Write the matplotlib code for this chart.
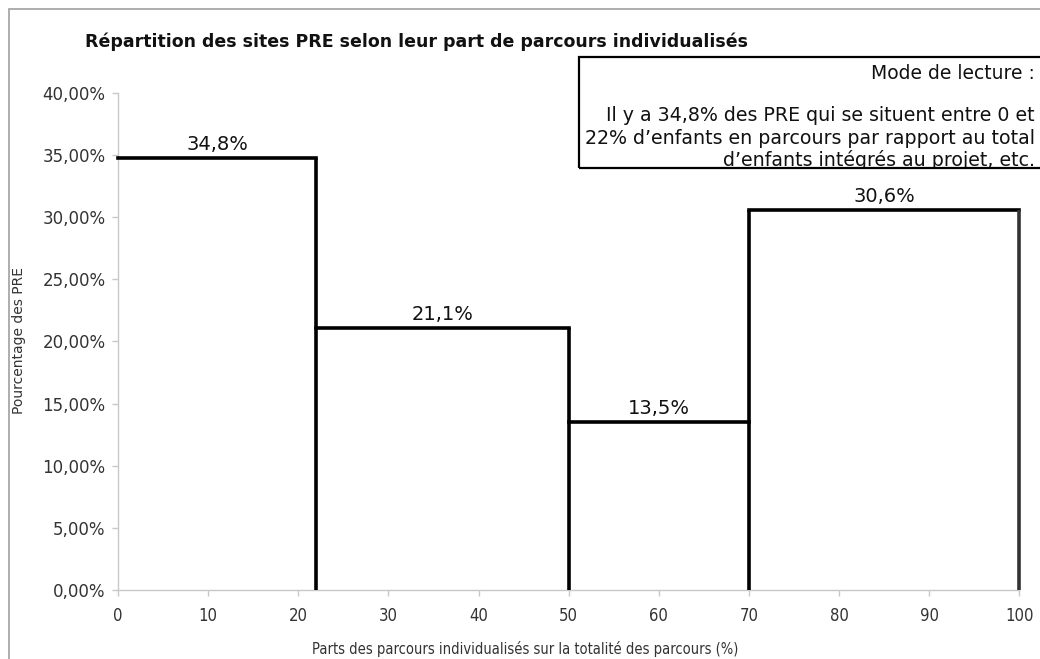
import matplotlib
matplotlib.use("Agg")
import matplotlib.pyplot as plt
from matplotlib.patches import Rectangle
from matplotlib.ticker import FuncFormatter

bin_edges = [0, 22, 50, 70, 100]
values = [34.8, 21.1, 13.5, 30.6]
value_labels = ["34,8%", "21,1%", "13,5%", "30,6%"]
y_ticks = [0, 5, 10, 15, 20, 25, 30, 35, 40]
x_ticks = [0, 10, 20, 30, 40, 50, 60, 70, 80, 90, 100]

title = "Répartition des sites PRE selon leur part de parcours individualisés"
xlabel = "Parts des parcours individualisés sur la totalité des parcours (%)"
ylabel = "Pourcentage des PRE"
note_head = "Mode de lecture :"
note_lines = ["Il y a 34,8% des PRE qui se situent entre 0 et",
              "22% d\u2019enfants en parcours par rapport au total",
              "d\u2019enfants intégrés au projet, etc."]

plt.rcParams['font.family'] = ['DejaVu Sans']
W, H = 1040, 659
fig = plt.figure(figsize=(10.4, 6.59), dpi=100)
ax = fig.add_axes([0.1135, 0.1047, 0.8665, 0.7542])

# figure border (gray)
fig.patches.append(Rectangle((0.0087, -0.05), 1.2, 1.037, transform=fig.transFigure,
                             fill=False, edgecolor="#a0a0a0", linewidth=1.2))

n = len(values)
for i, v in enumerate(values):
    x0, x1 = bin_edges[i], bin_edges[i + 1]
    ax.plot([x0, x1], [v, v], color="black", linewidth=2.6, solid_capstyle="projecting",
            zorder=3, clip_on=False)
    top = max(v, values[i + 1]) if i + 1 < n else v
    ax.plot([x1, x1], [top, 0], color="black" if i + 1 < n else "#333333", linewidth=2.6,
            solid_capstyle="butt", zorder=3, clip_on=False)
    ax.text((x0 + x1) / 2, v + 0.65, value_labels[i], ha="center", va="baseline", fontsize=14,
            color="#111111")

ax.set_xlim(0, 100)
ax.set_ylim(0, 40)
ax.set_xticks(x_ticks)
ax.set_yticks(y_ticks)
ax.yaxis.set_major_formatter(FuncFormatter(lambda v, p: f"{v:.2f}%".replace(".", ",")))
for s in ["top", "right"]:
    ax.spines[s].set_visible(False)
for s in ["left", "bottom"]:
    ax.spines[s].set_color("#c8c8c8")
    ax.spines[s].set_linewidth(1.0)
ax.tick_params(axis="both", colors="#c8c8c8", length=4, width=1, labelcolor="#333333")
ax.tick_params(axis="y", labelsize=12, pad=5)
ax.tick_params(axis="x", pad=8)
for lab in ax.get_xticklabels():
    lab.set_fontfamily(["DejaVu Sans"])
    lab.set_fontstretch("condensed")
    lab.set_fontsize(12)

fig.text(0.082, 0.937, title, fontsize=12.5, fontweight="bold", ha="left", va="center", color="#111111")
fig.text(0.505, 0.015, xlabel, fontsize=10.5, ha="center", va="center", color="#333333",
         fontstretch="condensed")
fig.text(0.018, 1 - 341 / H, ylabel, fontsize=10, ha="center", va="center", rotation=90, color="#333333")

# note box
box_y0, box_y1 = 57, 168
box = Rectangle((579 / W, 1 - box_y1 / H), 0.5, (box_y1 - box_y0) / H, transform=fig.transFigure,
                facecolor="white", edgecolor="none", zorder=5)
fig.patches.append(box)
border = Rectangle((579 / W, 1 - box_y1 / H), 0.5, (box_y1 - box_y0) / H, transform=fig.transFigure,
                   fill=False, edgecolor="black", linewidth=1.6, zorder=7)
fig.patches.append(border)
fig.text(1035 / W, 1 - 79 / H, note_head, fontsize=13.5, ha="right", va="baseline",
         zorder=6, color="#111111")
for k, line in enumerate(note_lines):
    t = fig.text(1035 / W, 1 - (121 + 22.5 * k) / H, line, fontsize=13.7, ha="right", va="baseline",
                 zorder=6, color="#111111")
    t.set_clip_path(box)

fig.savefig("out.png", dpi=100)
